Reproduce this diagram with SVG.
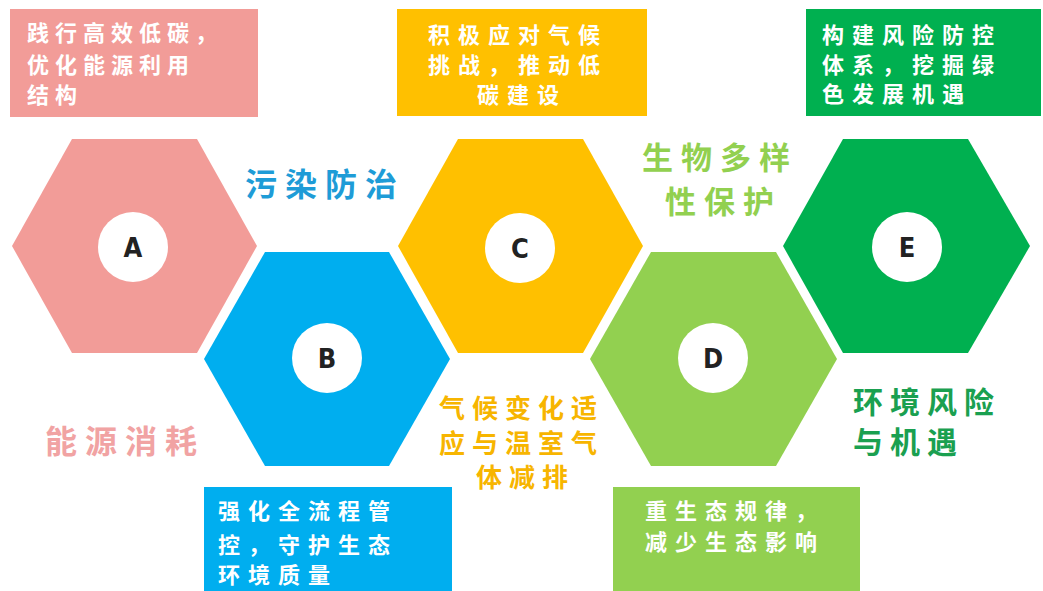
<svg xmlns="http://www.w3.org/2000/svg" width="1043" height="591" viewBox="0 0 1043 591">
<style>
.cn{font-family:"Noto Sans CJK SC","Noto Sans",sans-serif;font-weight:bold}
.box{font-size:22px;letter-spacing:8px;fill:#ffffff}
.lbl{font-family:"DejaVu Sans Condensed","Roboto","Liberation Sans",sans-serif;font-weight:bold;font-size:27px;fill:#222222;text-anchor:middle}
.dot{fill:#ffffff}
.org{font-size:26px;letter-spacing:7px;fill:#F7B500}
</style>
<rect width="1043" height="591" fill="#ffffff"/>
<g id="connectors"/>
<g id="node-A">
<rect x="10" y="9" width="248" height="108" fill="#F29C98"/>
<text class="cn box" x="27" y="41" style="letter-spacing:6px">践行高效低碳，</text>
<text class="cn box" x="27" y="73" style="letter-spacing:6px">优化能源利用</text>
<text class="cn box" x="27" y="103" style="letter-spacing:6px">结构</text>
<polygon points="12,246 72,139 197,139 257,246 197,353 72,353" fill="#F29C98"/>
<circle class="dot" cx="133" cy="247" r="35"/>
<text class="lbl" x="133" y="257">A</text>
<text class="cn" x="45" y="453" font-size="32" letter-spacing="8" fill="#F1A3A3">能源消耗</text>
</g>
<g id="node-B">
<polygon points="204,359 265,252 389,252 450,359 389,466 265,466" fill="#00AEEF"/>
<circle class="dot" cx="327" cy="358" r="35"/>
<text class="lbl" x="327" y="368">B</text>
<rect x="204" y="487" width="248" height="104" fill="#00AEEF"/>
<text class="cn box" x="218" y="519">强化全流程管</text>
<text class="cn box" x="218" y="553">控，守护生态</text>
<text class="cn box" x="218" y="583">环境质量</text>
<text class="cn" x="245" y="196" font-size="32" letter-spacing="8" fill="#1E9CD7">污染防治</text>
</g>
<g id="node-C">
<rect x="397" y="9" width="250" height="107" fill="#FFC000"/>
<text class="cn box" x="428" y="43">积极应对气候</text>
<text class="cn box" x="428" y="73">挑战，推动低</text>
<text class="cn box" x="477" y="103">碳建设</text>
<polygon points="398,246 458,139 583,139 643,246 583,353 458,353" fill="#FFC000"/>
<circle class="dot" cx="520" cy="248" r="35"/>
<text class="lbl" x="520" y="258">C</text>
<text class="cn org" x="439" y="418">气候变化适</text>
<text class="cn org" x="439" y="453">应与温室气</text>
<text class="cn org" x="476" y="487">体减排</text>
</g>
<g id="node-D">
<polygon points="590,359 651,252 776,252 837,359 776,466 651,466" fill="#92D050"/>
<circle class="dot" cx="713" cy="358" r="35"/>
<text class="lbl" x="713" y="368">D</text>
<rect x="613" y="487" width="247" height="104" fill="#92D050"/>
<text class="cn box" x="645" y="519">重生态规律，</text>
<text class="cn box" x="645" y="550">减少生态影响</text>
<text class="cn" x="642" y="169" font-size="31" letter-spacing="8" fill="#92D050">生物多样</text>
<text class="cn" x="665" y="213" font-size="31" letter-spacing="8" fill="#92D050">性保护</text>
</g>
<g id="node-E">
<rect x="806" y="9" width="235" height="107" fill="#00B050"/>
<text class="cn box" x="822" y="43">构建风险防控</text>
<text class="cn box" x="822" y="73">体系，挖掘绿</text>
<text class="cn box" x="822" y="102">色发展机遇</text>
<polygon points="783,246 843,139 968,139 1030,246 968,353 843,353" fill="#00B050"/>
<circle class="dot" cx="907" cy="247" r="35"/>
<text class="lbl" x="907" y="257">E</text>
<text class="cn" x="853" y="413" font-size="30" letter-spacing="7" fill="#1AA050">环境风险</text>
<text class="cn" x="853" y="453" font-size="30" letter-spacing="7" fill="#1AA050">与机遇</text>
</g>
</svg>
